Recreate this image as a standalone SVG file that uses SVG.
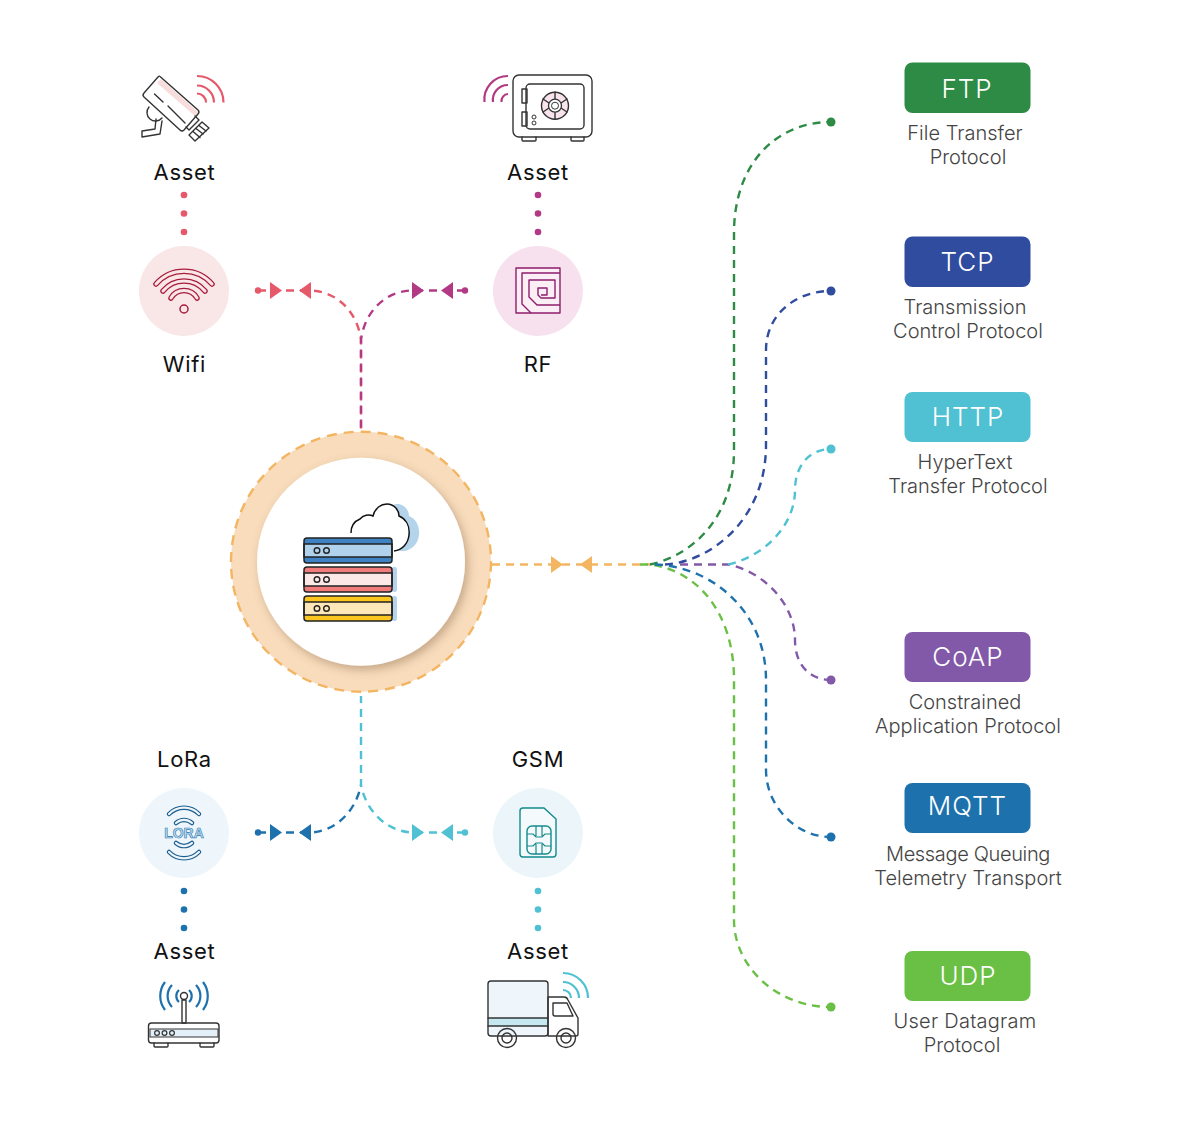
<svg xmlns="http://www.w3.org/2000/svg" width="1200" height="1122" viewBox="0 0 1200 1122">
<style>
text{font-family:"Inter","Liberation Sans",sans-serif}
.lb{font-size:22px;fill:#111;text-anchor:middle;letter-spacing:.7px}
.bt{font-size:26px;fill:#fff;text-anchor:middle;font-weight:300;letter-spacing:1px}
.ds{font-size:20px;fill:#444;text-anchor:middle;font-weight:300}
.c{fill:none;stroke-width:2.4;stroke-dasharray:8 6}
.ic{fill:none;stroke:#333;stroke-width:1.400;stroke-linejoin:round;stroke-linecap:round}
.sv{stroke:#222;stroke-width:1.500}
.w{fill:none;stroke-width:2.200}
</style>
<defs>
<filter id="sh" x="-20%" y="-20%" width="140%" height="140%"><feDropShadow dx="3" dy="4" stdDeviation="5" flood-color="#7a5a35" flood-opacity=".4"/></filter>
<path id="tr" d="M0,-8.500L12,0L0,8.500Z"/>
<path id="tl" d="M12,-8.500L0,0L12,8.500Z"/>
</defs>
<rect width="1200" height="1122" fill="#fff"/>
<g id="connectors">
<path class="c" stroke="#e5596b" d="M258,290.500H311C340,292 358,315 361,340V430"/>
<path class="c" stroke="#b23a84" d="M465,290.500H411C382,292 364,315 361,340V430"/>
<circle cx="258" cy="290.500" r="3.200" fill="#e5596b"/><use href="#tr" x="270" y="290.500" fill="#e5596b"/><use href="#tl" x="299" y="290.500" fill="#e5596b"/>
<circle cx="465" cy="290.500" r="3.200" fill="#b23a84"/><use href="#tr" x="412" y="290.500" fill="#b23a84"/><use href="#tl" x="441" y="290.500" fill="#b23a84"/>
<path class="c" stroke="#1d72ae" d="M258,832.500H311C337,831 356,810 361,785"/>
<path class="c" stroke="#4fc1d3" d="M465,832.500H412C385,831 366,810 361,785V696"/>
<circle cx="258" cy="832.500" r="3.200" fill="#1d72ae"/><use href="#tr" x="270" y="832.500" fill="#1d72ae"/><use href="#tl" x="299" y="832.500" fill="#1d72ae"/>
<circle cx="465" cy="832.500" r="3.200" fill="#4fc1d3"/><use href="#tr" x="412" y="832.500" fill="#4fc1d3"/><use href="#tl" x="441" y="832.500" fill="#4fc1d3"/>
<path class="c" stroke="#f3b562" d="M492,564.500H650"/>
<use href="#tr" x="551" y="564.500" fill="#f3b562"/><use href="#tl" x="580" y="564.500" fill="#f3b562"/>
<path class="c" stroke="#6abf45" d="M640,564.500H650C695,570 734,610 734,680V920C734,965 775,1007 831,1007"/>
<path class="c" stroke="#2e8b45" d="M650,564.500C690,556 734,520 734,450V233C734,165 775,122 831,122"/>
<path class="c" stroke="#1d72ae" d="M655,564.500C710,566 766,610 766,680V770C766,805 795,837 831,837"/>
<path class="c" stroke="#304c9f" d="M665,564.500C710,562 766,520 766,445V350C766,315 795,291 831,291"/>
<path class="c" stroke="#8259a8" d="M680,564.500H728C765,572 795,605 795,640C795,665 810,680 831,680"/>
<path class="c" stroke="#4fc1d3" d="M728,564.500C765,556 795,525 795,490C795,465 810,449 831,449"/>
<circle cx="831" cy="122" r="4.500" fill="#2e8b45"/>
<circle cx="831" cy="291" r="4.500" fill="#304c9f"/>
<circle cx="831" cy="449" r="4.500" fill="#4fc1d3"/>
<circle cx="831" cy="680" r="4.500" fill="#8259a8"/>
<circle cx="831" cy="837" r="4.500" fill="#1d72ae"/>
<circle cx="831" cy="1007" r="4.500" fill="#6abf45"/>
<g fill="#e5596b"><circle cx="184" cy="195" r="3.300"/><circle cx="184" cy="213.500" r="3.300"/><circle cx="184" cy="232" r="3.300"/></g>
<g fill="#b23a84"><circle cx="538" cy="195" r="3.300"/><circle cx="538" cy="213.500" r="3.300"/><circle cx="538" cy="232" r="3.300"/></g>
<g fill="#1d72ae"><circle cx="184" cy="891" r="3.300"/><circle cx="184" cy="909.500" r="3.300"/><circle cx="184" cy="928" r="3.300"/></g>
<g fill="#4fc1d3"><circle cx="538" cy="891" r="3.300"/><circle cx="538" cy="909.500" r="3.300"/><circle cx="538" cy="928" r="3.300"/></g>
</g>
<g id="asset-camera">
<path class="w" stroke="#e5596b" d="M197,76A26.500,26.500 0 0 1 223.500,102.500M197,85.500A17,17 0 0 1 214,102.500M197,93.500A9,9 0 0 1 206,102.500"/>
<path class="ic" fill="#fff" d="M149,107A7.500,7.500 0 1 0 162,118"/>
<path class="ic" d="M142,131L155,129L156,119M142,131V137L160,134L162,121"/>
<path d="M160,76.500L198,110Q200,112 198,114L184,130Q182,132 180,130L144,97Q142,95 144,93L158,77Q159,75.500 160,76.500Z" fill="#fff"/>
<path d="M161,79L198,112L195,116L157,83Z" fill="#f9dcdc"/>
<path class="ic" d="M160,76.500L198,110Q200,112 198,114L184,130Q182,132 180,130L144,97Q142,95 144,93L158,77Q159,75.500 160,76.500Z"/>
<path class="ic" d="M154.500,94L163,102M168,106L185,123"/>
<path class="ic" fill="#fff" d="M195,116L199,120L189,130L186,127"/>
<path class="ic" fill="#fff" d="M202,122L209,128L195,141L189,135Z"/>
<path class="ic" d="M199,125.500L206,131M196,128.500L203,134M193,131.500L200,137.500"/>
<text class="lb" x="184.500" y="180">Asset</text>
</g>
<g id="asset-safe">
<path class="w" stroke="#b23a84" d="M484.500,102A23.500,23.500 0 0 1 508,76M493,102A15,15 0 0 1 508,85M501.500,102A7,7 0 0 1 508,94"/>
<rect class="ic" x="513" y="75" width="79" height="62" rx="6"/>
<rect class="ic" x="526" y="84" width="58" height="45" rx="4"/>
<rect class="ic" x="522" y="89" width="5" height="14"/>
<rect class="ic" x="522" y="112" width="5" height="14"/>
<path class="ic" d="M522,137V140Q522,141 523,141H535Q536,141 536,140V137M571,137V140Q571,141 572,141H583Q584,141 584,140V137"/>
<circle cx="555" cy="105.700" r="13.500" fill="#f9e4ee" stroke="#333" stroke-width="1.400"/>
<path class="ic" d="M555,92V99M555,112V119M543,99L549,103M561,108L567,112M543,112L549,108M561,103L567,99"/>
<circle cx="555" cy="105.700" r="6.500" fill="#fff" stroke="#333" stroke-width="1.300"/>
<circle cx="555" cy="105.700" r="3.500" fill="none" stroke="#333" stroke-width="1"/>
<circle cx="534" cy="117" r="2" fill="none" stroke="#333" stroke-width="1"/>
<circle cx="534" cy="123" r="2" fill="none" stroke="#333" stroke-width="1"/>
<text class="lb" x="538" y="180">Asset</text>
</g>
<g id="node-wifi">
<circle cx="184" cy="291" r="45" fill="#f9e6e6"/>
<g fill="none" stroke-linecap="round">
<g stroke="#a81c3b" stroke-width="5.500"><path d="M156,284A37,37 0 0 1 212,284"/><path d="M163,291A27,27 0 0 1 205,291"/><path d="M171,298A15,15 0 0 1 197,298"/></g>
<g stroke="#f9e6e6" stroke-width="3"><path d="M156,284A37,37 0 0 1 212,284"/><path d="M163,291A27,27 0 0 1 205,291"/><path d="M171,298A15,15 0 0 1 197,298"/></g>
</g>
<circle cx="184" cy="309" r="4" fill="none" stroke="#a81c3b" stroke-width="1.500"/>
<text class="lb" x="184.500" y="372">Wifi</text>
</g>
<g id="node-rf">
<circle cx="538" cy="291" r="45" fill="#f7e1ee"/>
<path fill="#fbeef5" stroke="#8f1d6c" stroke-width="1.400" stroke-linejoin="round" d="M516,268H560V313H516Z"/>
<path fill="none" stroke="#8f1d6c" stroke-width="1.400" stroke-linejoin="round" d="M560,273H522V304L531,313M560,305H537L529,297V280H555V298H541L538,295V288H547V295H541"/>
<text class="lb" x="538" y="372">RF</text>
</g>
<g id="node-cloud">
<circle cx="361" cy="561.700" r="130" fill="#f8dcbc" stroke="#f3b562" stroke-width="2.400" stroke-dasharray="10 7"/>
<circle cx="361" cy="561.700" r="104" fill="#fff" filter="url(#sh)"/>
<path fill="#b4d4ec" d="M360,533C360,526 365,521 370,519C373,515 379,514 383,516C385,508 391,504 397,504C404,504 409,510 409,516C416,519 420,526 419,535C418,544 412,550 404,551H370Z"/>
<path fill="#fff" d="M351,533C351,526 355,521 360,519C363,515 369,514 373,516C375,508 381,504 387,504C394,504 399,510 399,516C406,519 410,526 409,535C408,544 402,550 394,551H351Z"/>
<path fill="none" stroke="#111" stroke-width="1.500" d="M351,533C351,526 355,521 360,519C363,515 369,514 373,516C375,508 381,504 387,504C394,504 399,510 399,516C406,519 410,526 409,535C408,544 402,550 394,551"/>
<rect x="392" y="567" width="5" height="25" rx="2" fill="#b4d4ec"/>
<rect x="392" y="596" width="5" height="25" rx="2" fill="#b4d4ec"/>
<rect x="304" y="538" width="88" height="25" rx="3" fill="#3e82c4"/>
<rect x="304" y="544" width="88" height="13" fill="#b0d2ec" class="sv"/>
<rect x="304" y="538" width="88" height="25" rx="3" fill="none" class="sv"/>
<rect x="304" y="567" width="88" height="25" rx="3" fill="#f27c7c"/>
<rect x="304" y="573" width="88" height="13" fill="#fde8e8" class="sv"/>
<rect x="304" y="567" width="88" height="25" rx="3" fill="none" class="sv"/>
<rect x="304" y="596" width="88" height="25" rx="3" fill="#fdc61e"/>
<rect x="304" y="602" width="88" height="13" fill="#fde6b8" class="sv"/>
<rect x="304" y="596" width="88" height="25" rx="3" fill="none" class="sv"/>
<g fill="none" stroke="#222" stroke-width="1.400"><circle cx="317" cy="550.500" r="2.800"/><circle cx="326.500" cy="550.500" r="2.800"/><circle cx="317" cy="579.500" r="2.800"/><circle cx="326.500" cy="579.500" r="2.800"/><circle cx="317" cy="608.500" r="2.800"/><circle cx="326.500" cy="608.500" r="2.800"/></g>
</g>
<g id="node-lora">
<circle cx="184" cy="833" r="45" fill="#eef6fb"/>
<text x="184" y="838" font-size="14" font-weight="700" text-anchor="middle" style="font-family:'Liberation Sans',sans-serif" fill="#bcdcef" stroke="#2b78b0" stroke-width=".6">LORA</text>
<g fill="none" stroke-linecap="round">
<g stroke="#1d5f8f" stroke-width="4.500"><path d="M169,814A21,21 0 0 1 199,814"/><path d="M176,823A12,12 0 0 1 192,823"/><path d="M169,852A21,21 0 0 0 199,852"/><path d="M176,843A12,12 0 0 0 192,843"/></g>
<g stroke="#eef6fb" stroke-width="2.200"><path d="M169,814A21,21 0 0 1 199,814"/><path d="M176,823A12,12 0 0 1 192,823"/><path d="M169,852A21,21 0 0 0 199,852"/><path d="M176,843A12,12 0 0 0 192,843"/></g>
</g>
<text class="lb" x="184.500" y="767">LoRa</text>
</g>
<g id="node-gsm">
<circle cx="538" cy="833" r="45" fill="#ecf6fa"/>
<path fill="#f4fafc" stroke="#128a8c" stroke-width="1.400" d="M523,808H544L556,819V854Q556,857 553,857H523Q520,857 520,854V811Q520,808 523,808Z"/>
<rect x="527" y="826" width="24" height="28" rx="5" fill="#f4fafc" stroke="#128a8c" stroke-width="1.400"/>
<path fill="none" stroke="#128a8c" stroke-width="1.200" d="M536,826V836M542,826V836M536,844V854M542,844V854M527,834H533L536,837H542L545,834H551M527,846H533L536,843H542L545,846H551"/>
<text class="lb" x="538" y="767">GSM</text>
</g>
<g id="asset-router">
<path class="w" stroke="#1d72ae" stroke-width="1.800" d="M179,1002A8,8 0 0 1 179,990M189,990A8,8 0 0 1 189,1002M172,1007A16,16 0 0 1 172,985M196,985A16,16 0 0 1 196,1007M165,1010A23,23 0 0 1 165,982M203,982A23,23 0 0 1 203,1010"/>
<rect class="ic" x="182" y="1000" width="4" height="23"/>
<circle class="ic" cx="184" cy="996" r="3.500" fill="#fff"/>
<rect class="ic" x="148.500" y="1023" width="70.500" height="20" rx="3"/>
<rect x="150" y="1029" width="68" height="8" fill="#e4f0f9" stroke="#333" stroke-width="1"/>
<g fill="none" stroke="#333" stroke-width="1.200"><circle cx="157" cy="1033" r="2.400"/><circle cx="164.500" cy="1033" r="2.400"/><circle cx="172" cy="1033" r="2.400"/></g>
<path class="ic" d="M154,1043V1046Q154,1047 155,1047H167Q168,1047 168,1046V1043M200,1043V1046Q200,1047 201,1047H213Q214,1047 214,1046V1043"/>
<text class="lb" x="184.500" y="959">Asset</text>
</g>
<g id="asset-truck">
<path class="w" stroke="#4fc1d3" d="M563,973A25,25 0 0 1 588,998M563,982A16,16 0 0 1 579,998M563,990A8,8 0 0 1 571,998"/>
<rect x="488" y="981" width="60" height="55" rx="3" fill="#eef6fb"/>
<rect x="488" y="1018" width="60" height="8" fill="#c5e8f0"/>
<rect class="ic" x="488" y="981" width="60" height="55" rx="3"/>
<path class="ic" d="M488,1018H548M488,1026H548"/>
<path class="ic" fill="#fff" d="M548,997H564Q567,997 568,1000L578,1018V1034Q578,1036 576,1036H548Z"/>
<path class="ic" fill="#eef6fb" d="M553,1003H567L573,1016H555Q553,1016 553,1014Z"/>
<circle class="ic" cx="507" cy="1038" r="9.500" fill="#fff"/><circle class="ic" cx="507" cy="1038" r="5"/>
<circle class="ic" cx="566" cy="1038" r="9.500" fill="#fff"/><circle class="ic" cx="566" cy="1038" r="5"/>
<text class="lb" x="538" y="959">Asset</text>
</g>
<g id="proto-ftp"><rect x="904.500" y="62.500" width="126" height="50.500" rx="8" fill="#2e8b45"/><text class="bt" x="967" y="98">FTP</text><text class="ds" x="965" y="140">File Transfer</text><text class="ds" x="968" y="164">Protocol</text></g>
<g id="proto-tcp"><rect x="904.500" y="236.500" width="126" height="50.500" rx="8" fill="#304c9f"/><text class="bt" x="967.500" y="271">TCP</text><text class="ds" x="965" y="313.500">Transmission</text><text class="ds" x="968" y="337.500">Control Protocol</text></g>
<g id="proto-http"><rect x="904.500" y="392" width="126" height="50" rx="8" fill="#4fc1d3"/><text class="bt" x="968" y="426">HTTP</text><text class="ds" x="965" y="469">HyperText</text><text class="ds" x="968" y="493">Transfer Protocol</text></g>
<g id="proto-coap"><rect x="904.500" y="632" width="126" height="50" rx="8" fill="#8259a8"/><text class="bt" x="968" y="666">CoAP</text><text class="ds" x="965" y="709">Constrained</text><text class="ds" x="968" y="733">Application Protocol</text></g>
<g id="proto-mqtt"><rect x="904.500" y="783" width="126" height="50" rx="8" fill="#1d72ae"/><text class="bt" x="967.500" y="815">MQTT</text><text class="ds" x="968" y="861" style="letter-spacing:-.35px">Message Queuing</text><text class="ds" x="968" y="885">Telemetry Transport</text></g>
<g id="proto-udp"><rect x="904.500" y="951" width="126" height="50" rx="8" fill="#6abf45"/><text class="bt" x="968" y="985">UDP</text><text class="ds" x="965" y="1028" style="letter-spacing:.25px">User Datagram</text><text class="ds" x="962" y="1052">Protocol</text></g>
</svg>
